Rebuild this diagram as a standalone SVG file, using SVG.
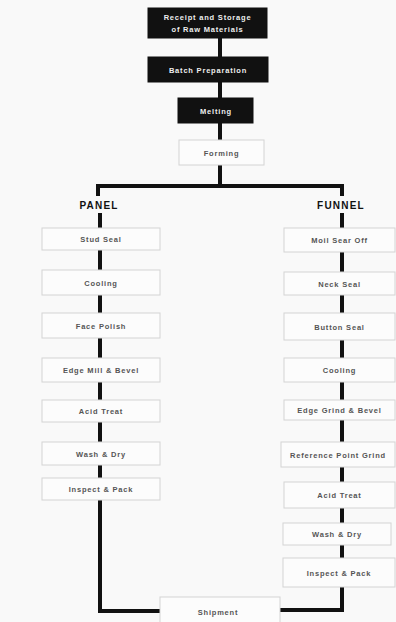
<svg xmlns="http://www.w3.org/2000/svg" width="396" height="622" viewBox="0 0 396 622">
<style>
.dark rect{fill:#111;stroke:#111}
.dark text{fill:#eee;font-family:"Liberation Sans",Arial,sans-serif;font-size:7.5px;font-weight:bold;text-anchor:middle;letter-spacing:0.8px}
.light rect{fill:#fcfcfc;stroke:#d4d4d4;stroke-width:1}
.light text{fill:#555;font-family:"Liberation Sans",Arial,sans-serif;font-size:7.5px;font-weight:bold;text-anchor:middle;letter-spacing:0.8px}
.head{fill:#111;font-family:"Liberation Sans",Arial,sans-serif;font-size:10px;font-weight:bold;text-anchor:middle;letter-spacing:1.2px}
.conn{fill:none;stroke:#111;stroke-width:4;stroke-linejoin:miter}
</style>
<rect width="396" height="622" fill="#f9f9f9"/>
<g id="connectors">
<path class="conn" d="M220 38V57M220 82V98M220 123V140M220 165V186"/>
<path class="conn" d="M98 196V186H342V196"/>
<path class="conn" d="M100 213V228M100 250V270M100 295V313M100 338V358M100 382V400M100 422V442M100 465V478M100 500V611H160"/>
<path class="conn" d="M342 213V228M342 252V272M342 295V313M342 340V358M342 382V400M342 420V442M342 467V482M342 508V523M342 545V558M342 587V610H280"/>
</g>
<g id="receipt" class="dark"><rect x="148" y="8" width="119" height="30"/><text x="207.5" y="20">Receipt and Storage</text><text x="207.5" y="32">of Raw Materials</text></g>
<g id="batch" class="dark"><rect x="148" y="57" width="120" height="25"/><text x="208" y="72.5">Batch Preparation</text></g>
<g id="melting" class="dark"><rect x="178" y="98" width="75" height="25"/><text x="216" y="113.5">Melting</text></g>
<g id="forming" class="light"><rect x="179" y="140" width="85" height="25"/><text x="221.5" y="155.5">Forming</text></g>
<g id="panel"><text class="head" x="99" y="208.5">PANEL</text></g>
<g id="funnel"><text class="head" x="341" y="209">FUNNEL</text></g>
<g id="p1" class="light"><rect x="42" y="228" width="118" height="22"/><text x="101" y="242">Stud Seal</text></g>
<g id="p2" class="light"><rect x="42" y="270" width="118" height="25"/><text x="101" y="285.5">Cooling</text></g>
<g id="p3" class="light"><rect x="42" y="313" width="118" height="25"/><text x="101" y="328.5">Face Polish</text></g>
<g id="p4" class="light"><rect x="42" y="358" width="118" height="24"/><text x="101" y="373">Edge Mill &amp; Bevel</text></g>
<g id="p5" class="light"><rect x="42" y="400" width="118" height="22"/><text x="101" y="414">Acid Treat</text></g>
<g id="p6" class="light"><rect x="42" y="442" width="118" height="23"/><text x="101" y="456.5">Wash &amp; Dry</text></g>
<g id="p7" class="light"><rect x="42" y="478" width="118" height="22"/><text x="101" y="492">Inspect &amp; Pack</text></g>
<g id="f1" class="light"><rect x="284" y="228" width="111" height="24"/><text x="339.5" y="243">Moil Sear Off</text></g>
<g id="f2" class="light"><rect x="284" y="272" width="111" height="23"/><text x="339.5" y="286.5">Neck Seal</text></g>
<g id="f3" class="light"><rect x="284" y="313" width="111" height="27"/><text x="339.5" y="329.5">Button Seal</text></g>
<g id="f4" class="light"><rect x="284" y="358" width="111" height="24"/><text x="339.5" y="373">Cooling</text></g>
<g id="f5" class="light"><rect x="284" y="400" width="111" height="20"/><text x="339.5" y="413">Edge Grind &amp; Bevel</text></g>
<g id="f6" class="light"><rect x="281" y="442" width="114" height="25"/><text x="338" y="457.5">Reference Point Grind</text></g>
<g id="f7" class="light"><rect x="284" y="482" width="111" height="26"/><text x="339.5" y="498">Acid Treat</text></g>
<g id="f8" class="light"><rect x="283" y="523" width="108" height="22"/><text x="337" y="537">Wash &amp; Dry</text></g>
<g id="f9" class="light"><rect x="283" y="558" width="112" height="29"/><text x="339" y="575.5">Inspect &amp; Pack</text></g>
<g id="shipment" class="light"><rect x="160" y="597" width="120" height="30"/><text x="218" y="614.5">Shipment</text></g>
</svg>
